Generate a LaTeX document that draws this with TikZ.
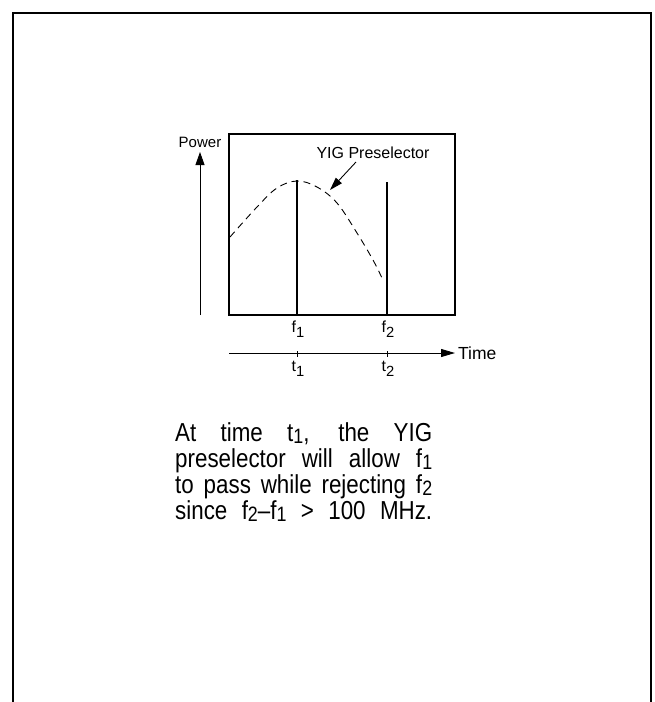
\documentclass[tikz,border=0pt]{standalone}
\usepackage{fontspec}
\usepackage{graphicx}
\setmainfont{Liberation Sans}
\newfontfamily\condfont[FakeStretch=0.86]{Liberation Sans}
\usetikzlibrary{arrows.meta}
\newcommand\sbx[1]{\raisebox{-0.28em}{\scalebox{0.92}{#1}}}
\newcommand\psb[1]{\raisebox{-0.1em}{\scalebox{0.8}{#1}}}
\begin{document}
\begin{tikzpicture}[x=1pt,y=-1pt,
  frame/.style={line width=2pt},
  boxline/.style={line width=2pt},
  spike/.style={line width=2.2pt},
  axis/.style={line width=0.9pt},
  arrowhd/.style={-{Triangle[length=13pt,width=9pt]}},
  lbl/.style={inner sep=0pt, font=\fontsize{16}{18}\selectfont},
  curve/.style={dash pattern=on 7pt off 5pt, line width=0.9pt}]
\useasboundingbox (0,0) rectangle (655,702);
% outer frame (open at the bottom)
\coordinate (fbl) at (13,702);
\coordinate (ftl) at (13,13);
\coordinate (ftr) at (651,13);
\coordinate (fbr) at (651,702);
\draw[frame] (fbl) -- (ftl) -- (ftr) -- (fbr);
% plot box
\coordinate (pbl) at (229,315);
\coordinate (ptr) at (455,134);
\draw[boxline] (pbl) rectangle (ptr);
% spectral lines
\coordinate (f1b) at (297,315);
\coordinate (f1t) at (297,180);
\coordinate (f2b) at (387,315);
\coordinate (f2t) at (387,182);
\draw[spike] (f1b) -- (f1t);
\draw[spike] (f2b) -- (f2t);
% YIG preselector passband
\draw[curve] plot[smooth, tension=0.6] coordinates {(230,237) (257,207) (277,188) (297,181) (317,187) (337,203) (357,233) (373,260) (382,278)};
% power axis
\coordinate (pwbot) at (200,315);
\coordinate (pwtop) at (200,152);
\draw[axis, arrowhd] (pwbot) -- (pwtop);
\node[lbl, font=\fontsize{15}{17}\selectfont] (power) at (200,142) {Power};
% YIG label and arrow
\node[lbl, font=\fontsize{16}{18}\selectfont] (yig) at (373,153) {YIG Preselector};
\coordinate (yigtail) at (356,162);
\coordinate (yigtip) at (330,190);
\draw[axis, -{Triangle[length=13pt,width=8pt]}] (yigtail) -- (yigtip);
% frequency labels
\node[lbl] (f1) at (298,329) {f\sbx{1}};
\node[lbl] (f2) at (388,329) {f\sbx{2}};
% time axis
\coordinate (tstart) at (229,353);
\coordinate (tend) at (455,353);
\draw[axis, -{Triangle[length=14pt,width=8pt]}] (tstart) -- (tend);
\node[lbl, anchor=west, font=\fontsize{17.5}{19}\selectfont] (time) at (458,353) {Time};
\coordinate (tk1a) at (297,351);
\coordinate (tk1b) at (297,357);
\coordinate (tk2a) at (387,351);
\coordinate (tk2b) at (387,357);
\draw[axis] (tk1a) -- (tk1b);
\draw[axis] (tk2a) -- (tk2b);
\node[lbl] (t1) at (298,369) {t\sbx{1}};
\node[lbl] (t2) at (388,369) {t\sbx{2}};
% caption
\node[anchor=north west, inner sep=0pt, text width=257pt, align=justify,
      font=\condfont\fontsize{26}{26}\selectfont] (para) at (175,422)
  {\tolerance=10000\hbadness=10000
   At time t\psb{1}, the YIG\linebreak
   preselector will allow f\psb{1}\linebreak
   to pass while rejecting f\psb{2}\linebreak
   since f\psb{2}–f\psb{1} > 100 MHz.\parfillskip=0pt\par};
\end{tikzpicture}
\end{document}
